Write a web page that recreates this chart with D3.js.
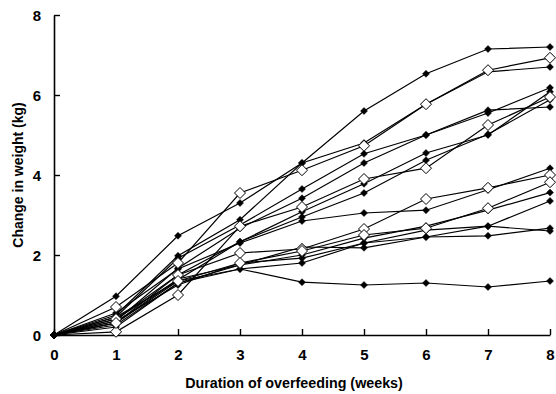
<!DOCTYPE html>
<html>
<head>
<meta charset="utf-8">
<script src="https://cdn.jsdelivr.net/npm/d3@7"></script>
<style>
  body { margin: 0; background: #fff; }
  text { font-family: "Liberation Sans", Arial, sans-serif; font-weight: bold; fill: #000; }
</style>
</head>
<body>
<div id="chart"></div>
<script>
'use strict';

// weeks of overfeeding
const weeks = [0, 1, 2, 3, 4, 5, 6, 7, 8];
const xTicks = [0, 1, 2, 3, 4, 5, 6, 7, 8];
const yTicks = [0, 2, 4, 6, 8];

// change in weight (kg) for each subject; open = drawn with open diamonds
const subj01 = [0, 0.97, 2.48, 3.30, 4.30, 5.60, 6.53, 7.15, 7.20];
const subj02 = [0, 0.70, 1.80, 3.55, 4.12, 4.73, 5.77, 6.62, 6.93];
const subj03 = [0, 0.50, 1.98, 2.88, 4.30, 4.80, 5.77, 6.58, 6.70];
const subj04 = [0, 0.45, 1.92, 2.75, 3.65, 4.53, 5.00, 5.55, 6.18];
const subj05 = [0, 0.35, 1.67, 2.67, 3.42, 4.30, 5.00, 5.62, 5.70];
const subj06 = [0, 0.08, 1.00, 2.72, 3.20, 3.90, 4.17, 5.25, 5.95];
const subj07 = [0, 0.30, 1.50, 2.33, 3.08, 3.78, 4.55, 5.00, 6.08];
const subj08 = [0, 0.40, 1.38, 2.33, 2.95, 3.55, 4.37, 5.02, 5.88];
const subj09 = [0, 0.55, 1.65, 2.30, 2.85, 3.05, 3.12, 3.63, 4.17];
const subj10 = [0, 0.40, 1.50, 2.05, 2.15, 2.65, 3.40, 3.68, 4.00];
const subj11 = [0, 0.30, 1.35, 1.80, 2.10, 2.50, 2.67, 3.17, 3.82];
const subj12 = [0, 0.25, 1.30, 1.75, 2.00, 2.42, 2.72, 3.12, 3.56];
const subj13 = [0, 0.35, 1.25, 1.80, 1.92, 2.30, 2.62, 2.72, 3.35];
const subj14 = [0, 0.30, 1.40, 1.75, 2.20, 2.18, 2.45, 2.72, 2.60];
const subj15 = [0, 0.20, 1.30, 1.65, 1.80, 2.30, 2.45, 2.48, 2.67];
const subj16 = [0, 0.45, 1.35, 1.65, 1.32, 1.25, 1.30, 1.20, 1.35];

const series = [
	{ vals: subj01, open: false }, { vals: subj02, open: true },
	{ vals: subj03, open: false }, { vals: subj04, open: false },
	{ vals: subj05, open: false }, { vals: subj06, open: true },
	{ vals: subj07, open: false }, { vals: subj08, open: false },
	{ vals: subj09, open: false }, { vals: subj10, open: true },
	{ vals: subj11, open: true }, { vals: subj12, open: false },
	{ vals: subj13, open: false }, { vals: subj14, open: false },
	{ vals: subj15, open: false }, { vals: subj16, open: false }
];

const width = 556, height = 394;
const margin = { top: 15, right: 6, bottom: 59, left: 54 };
const w = width - margin.left - margin.right;
const h = height - margin.top - margin.bottom;

const svg = d3.select('#chart').append('svg')
	.attr('width', width)
	.attr('height', height);

const g = svg.append('g')
	.attr('transform', 'translate(' + margin.left + ',' + margin.top + ')');

const x = d3.scaleLinear().domain([0, 8]).range([0, w]);
const y = d3.scaleLinear().domain([0, 8]).range([h, 0]);

// axes with inward ticks
const xAxis = d3.axisBottom(x).tickValues(xTicks).tickSizeInner(-6).tickSizeOuter(0).tickPadding(14);
const yAxis = d3.axisLeft(y).tickValues(yTicks).tickSizeInner(-6).tickSizeOuter(0).tickPadding(13);

const gx = g.append('g').attr('transform', 'translate(0,' + h + ')').call(xAxis);
const gy = g.append('g').call(yAxis);

[gx, gy].forEach(a => {
	a.select('.domain').attr('stroke', '#000').attr('stroke-width', 1.6);
	a.selectAll('.tick line').attr('stroke', '#000').attr('stroke-width', 1.4);
	a.selectAll('.tick text').style('font-size', '15px').style('font-family', '"Liberation Sans", Arial, sans-serif').style('font-weight', 'bold');
});
gy.selectAll('.tick text').attr('dy', '0.35em');

// lines
const line = d3.line()
	.x((d, i) => x(weeks[i]))
	.y(d => y(d));

g.append('g').selectAll('path')
	.data(series)
	.join('path')
	.attr('d', d => line(d.vals))
	.attr('fill', 'none')
	.attr('stroke', '#000')
	.attr('stroke-width', 1.2);

// markers: filled first, open on top (origin always filled)
const diamond = (cx, cy, r) => 'M' + cx + ',' + (cy - r) + 'L' + (cx + r) + ',' + cy + 'L' + cx + ',' + (cy + r) + 'L' + (cx - r) + ',' + cy + 'Z';

const ordered = series.filter(s => !s.open).concat(series.filter(s => s.open));
ordered.forEach(s => {
	g.append('g').selectAll('path')
		.data(s.vals)
		.join('path')
		.attr('d', (d, i) => diamond(x(weeks[i]), y(d), s.open && i > 0 ? 5.5 : 3.5))
		.attr('fill', (d, i) => s.open && i > 0 ? '#fff' : '#000')
		.attr('stroke', '#000')
		.attr('stroke-width', (d, i) => s.open && i > 0 ? 1 : 0.5);
});

// axis titles
svg.append('text')
	.attr('x', margin.left + w / 2 - 8)
	.attr('y', 388)
	.attr('text-anchor', 'middle')
	.style('font-size', '14.3px')
	.text('Duration of overfeeding (weeks)');

svg.append('text')
	.attr('transform', 'translate(23,' + (margin.top + h / 2) + ') rotate(-90)')
	.attr('text-anchor', 'middle')
	.style('font-size', '14px')
	.text('Change in weight (kg)');
</script>
</body>
</html>
